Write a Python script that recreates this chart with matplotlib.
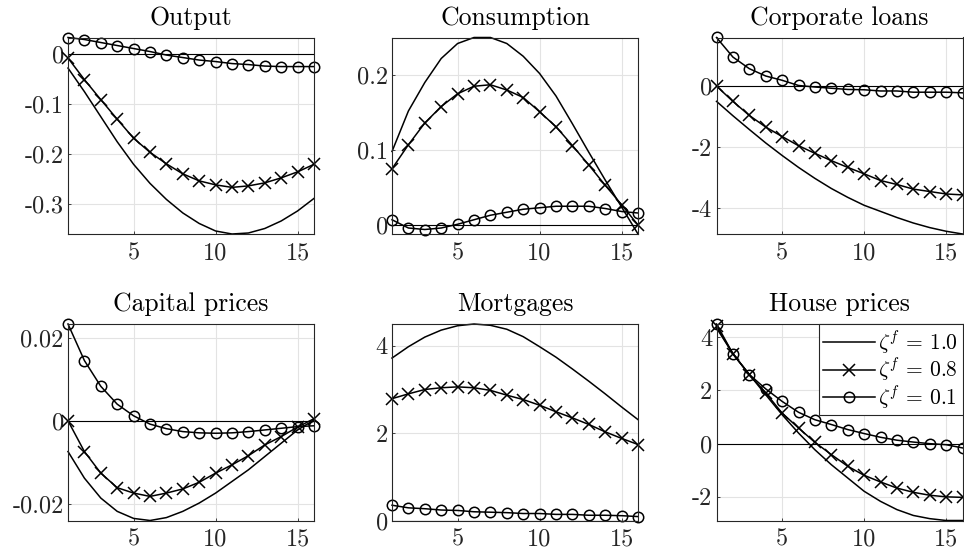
import matplotlib
matplotlib.use("Agg")
import matplotlib.pyplot as plt

plt.rcParams["font.family"] = ["cmr10", "DejaVu Serif"]
plt.rcParams["mathtext.fontset"] = "cm"
plt.rcParams["axes.unicode_minus"] = False

# Horizon (quarters)
t = list(range(1, 17))

# Impulse responses for three values of zeta^f
output_10 = [-0.028, -0.075, -0.125, -0.175, -0.220, -0.258, -0.290, -0.317,
             -0.338, -0.353, -0.359, -0.357, -0.348, -0.333, -0.313, -0.288]
output_08 = [-0.008, -0.051, -0.091, -0.130, -0.168, -0.196, -0.219, -0.239,
             -0.253, -0.261, -0.266, -0.263, -0.257, -0.247, -0.235, -0.220]
output_01 = [0.033, 0.029, 0.023, 0.017, 0.011, 0.005, -0.002, -0.007,
             -0.012, -0.015, -0.019, -0.021, -0.024, -0.025, -0.025, -0.025]

cons_10 = [0.098, 0.152, 0.19, 0.222, 0.242, 0.250, 0.250, 0.242,
           0.225, 0.202, 0.172, 0.135, 0.097, 0.06, 0.024, -0.012]
cons_08 = [0.075, 0.107, 0.136, 0.158, 0.175, 0.185, 0.187, 0.180,
           0.170, 0.151, 0.131, 0.106, 0.080, 0.053, 0.027, 0.0]
cons_01 = [0.007, -0.004, -0.006, -0.004, 0.001, 0.007, 0.013, 0.017,
           0.021, 0.023, 0.025, 0.025, 0.025, 0.022, 0.018, 0.016]

loans_10 = [-0.50, -0.97, -1.42, -1.86, -2.27, -2.66, -3.02, -3.35,
            -3.64, -3.90, -4.10, -4.30, -4.48, -4.63, -4.75, -4.84]
loans_08 = [0.0, -0.50, -0.96, -1.34, -1.65, -1.95, -2.20, -2.44,
            -2.66, -2.87, -3.09, -3.22, -3.37, -3.45, -3.53, -3.56]
loans_01 = [1.59, 0.95, 0.57, 0.33, 0.19, 0.02, -0.03, -0.07,
            -0.11, -0.12, -0.16, -0.16, -0.20, -0.20, -0.20, -0.22]

cap_10 = [-0.0074, -0.0138, -0.0186, -0.0218, -0.0235, -0.0240, -0.0233, -0.0218,
          -0.0198, -0.0174, -0.0146, -0.0118, -0.0086, -0.0054, -0.0022, 0.0002]
cap_08 = [0.0, -0.0074, -0.0126, -0.0161, -0.0174, -0.0182, -0.0174, -0.0164,
          -0.0148, -0.0126, -0.0106, -0.0084, -0.0058, -0.0038, -0.0015, 0.0005]
cap_01 = [0.0233, 0.0145, 0.0083, 0.0040, 0.0012, -0.0008, -0.0019, -0.0026,
          -0.0029, -0.0030, -0.0029, -0.0026, -0.0022, -0.0018, -0.0014, -0.0012]

mort_10 = [3.72, 3.98, 4.20, 4.36, 4.46, 4.50, 4.47, 4.38,
           4.21, 3.98, 3.74, 3.47, 3.19, 2.90, 2.60, 2.31]
mort_08 = [2.79, 2.90, 3.00, 3.04, 3.06, 3.04, 2.98, 2.87,
           2.77, 2.64, 2.49, 2.35, 2.20, 2.03, 1.88, 1.74]
mort_01 = [0.35, 0.29, 0.27, 0.24, 0.23, 0.20, 0.19, 0.18,
           0.16, 0.16, 0.14, 0.14, 0.12, 0.12, 0.11, 0.09]

house_10 = [4.35, 3.38, 2.60, 1.84, 1.09, 0.40, -0.23, -0.79,
            -1.29, -1.79, -2.17, -2.48, -2.70, -2.82, -2.89, -2.89]
house_08 = [4.42, 3.38, 2.60, 1.91, 1.15, 0.59, 0.05, -0.41,
            -0.85, -1.19, -1.44, -1.67, -1.83, -1.94, -2.00, -2.02]
house_01 = [4.50, 3.38, 2.60, 2.06, 1.59, 1.18, 0.90, 0.72,
            0.53, 0.38, 0.24, 0.13, 0.06, 0.0, -0.04, -0.16]

titles = ["Output", "Consumption", "Corporate loans",
          "Capital prices", "Mortgages", "House prices"]
series = [(output_10, output_08, output_01), (cons_10, cons_08, cons_01),
          (loans_10, loans_08, loans_01), (cap_10, cap_08, cap_01),
          (mort_10, mort_08, mort_01), (house_10, house_08, house_01)]
yticks = [[-0.3, -0.2, -0.1, 0], [0, 0.1, 0.2], [-4, -2, 0],
          [-0.02, 0, 0.02], [0, 2, 4], [-2, 0, 2, 4]]
yticklabels = [["-0.3", "-0.2", "-0.1", "0"], ["0", "0.1", "0.2"], ["-4", "-2", "0"],
               ["-0.02", "0", "0.02"], ["0", "2", "4"], ["-2", "0", "2", "4"]]
labels = [r"$\zeta^f\,=\,1.0$", r"$\zeta^f\,=\,0.8$", r"$\zeta^f\,=\,0.1$"]

fig = plt.figure(figsize=(9.64, 5.58), dpi=100)

lefts = [68, 392, 716.5]
bottoms = [234, 520.5]
W, H = 964, 558
dark = "#262626"
fs = 17.5

for i in range(6):
    r, c = divmod(i, 3)
    ax = fig.add_axes([lefts[c] / W, 1 - bottoms[r] / H, 246 / W, 196.5 / H])
    s10, s08, s01 = series[i]
    ax.plot(t, [0] * len(t), color="black", lw=0.8)
    ax.plot(t, s10, color="black", lw=1.1, clip_on=False, label=labels[0])
    ax.plot(t, s08, color="black", lw=1.1, marker="x", ms=8.5, mew=1.1,
            clip_on=False, label=labels[1])
    ax.plot(t, s01, color="black", lw=1.1, marker="o", ms=7.5, mew=1.1,
            mfc="none", clip_on=False, label=labels[2])
    lo = min(min(s10), min(s08), min(s01), 0)
    hi = max(max(s10), max(s08), max(s01), 0)
    ax.set_xlim(1, 16)
    ax.set_ylim(lo, hi)
    ax.set_xticks([5, 10, 15])
    ax.set_xticklabels(["5", "10", "15"])
    ax.set_yticks(yticks[i])
    ax.set_yticklabels(yticklabels[i])
    ax.grid(True, color="#e3e3e3", lw=0.8)
    ax.set_axisbelow(True)
    ax.tick_params(direction="in", length=2.5, width=0.6, colors=dark,
                   labelsize=fs)
    ax.tick_params(axis="x", pad=6)
    ax.tick_params(axis="y", pad=3)
    for sp in ax.spines.values():
        sp.set_color(dark)
        sp.set_linewidth(0.8)
    ax.set_title(titles[i], fontsize=18.5, pad=9, color="black")
    if i == 5:
        leg = ax.legend(loc="upper right", fontsize=15.5,
                        frameon=True, fancybox=False, framealpha=1,
                        borderaxespad=0, handlelength=2.4, handletextpad=0.15,
                        labelspacing=0.0, borderpad=0.2)
        leg.get_frame().set_edgecolor(dark)
        leg.get_frame().set_linewidth(0.8)

plt.savefig("out.png", dpi=100)
